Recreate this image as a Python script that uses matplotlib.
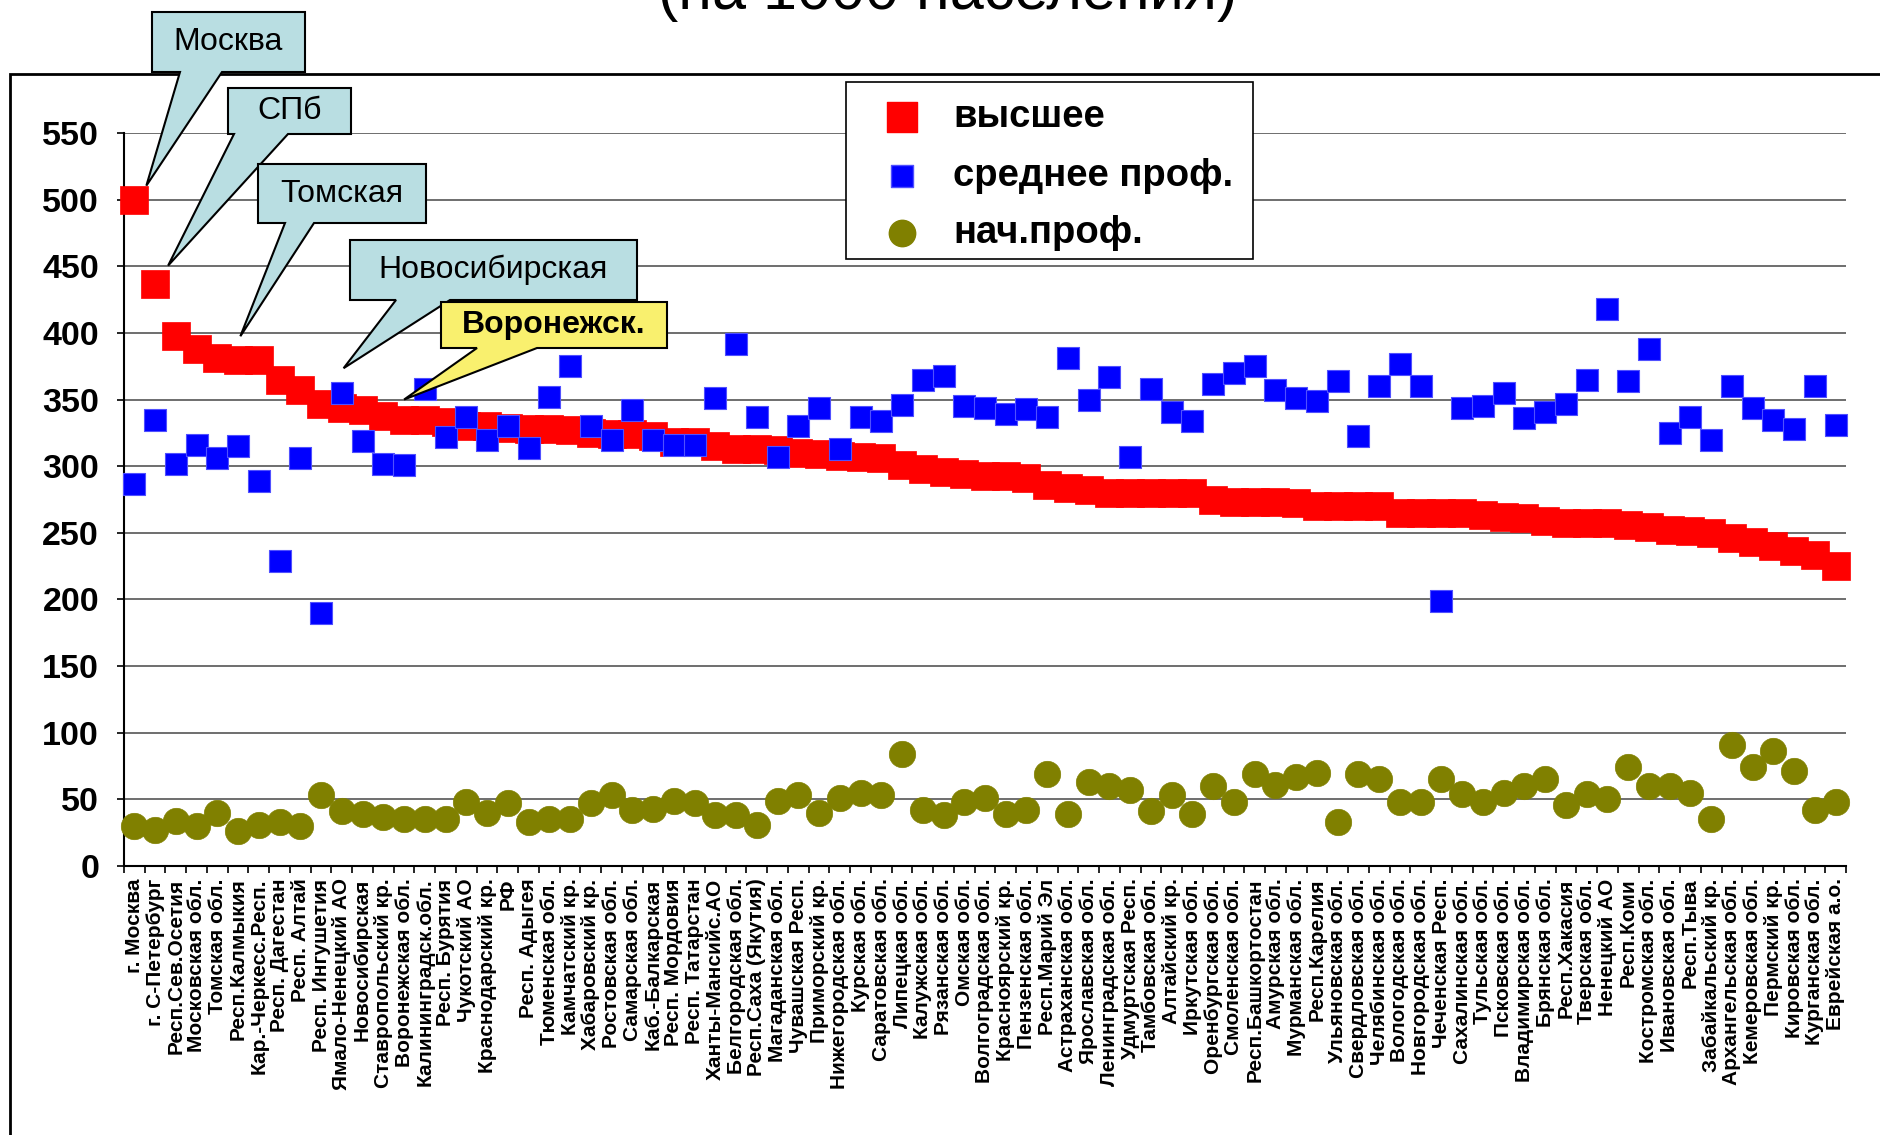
import matplotlib
matplotlib.use('Agg')
import matplotlib.pyplot as plt
from matplotlib.path import Path
from matplotlib.markers import MarkerStyle
from matplotlib.lines import Line2D
from matplotlib.patches import Polygon, Rectangle
import numpy as np

plt.rcParams['font.family'] = ['Liberation Sans', 'DejaVu Sans']

regions = [
    "г. Москва", "г. С-Петербург", "Респ.Сев.Осетия", "Московская обл.", "Томская обл.",
    "Респ.Калмыкия", "Кар.-Черкесс.Респ.", "Респ. Дагестан", "Респ. Алтай", "Респ. Ингушетия",
    "Ямало-Ненецкий АО", "Новосибирская", "Ставропольский кр.", "Воронежская обл.", "Калининградск.обл.",
    "Респ. Бурятия", "Чукотский АО", "Краснодарский кр.", "РФ", "Респ. Адыгея",
    "Тюменская обл.", "Камчатский кр.", "Хабаровский кр.", "Ростовская обл.", "Самарская обл.",
    "Каб.-Балкарская", "Респ. Мордовия", "Респ. Татарстан", "Ханты-Мансийс.АО", "Белгородская обл.",
    "Респ.Саха (Якутия)", "Магаданская обл.", "Чувашская Респ.", "Приморский кр.", "Нижегородская обл.",
    "Курская обл.", "Саратовская обл.", "Липецкая обл.", "Калужская обл.", "Рязанская обл.",
    "Омская обл.", "Волгоградская обл.", "Красноярский кр.", "Пензенская обл.", "Респ.Марий Эл",
    "Астраханская обл.", "Ярославская обл.", "Ленинградская обл.", "Удмуртская Респ.", "Тамбовская обл.",
    "Алтайский кр.", "Иркутская обл.", "Оренбургская обл.", "Смоленская обл.", "Респ.Башкортостан",
    "Амурская обл.", "Мурманская обл.", "Респ.Карелия", "Ульяновская обл.", "Свердловская обл.",
    "Челябинская обл.", "Вологодская обл.", "Новгородская обл.", "Чеченская Респ.", "Сахалинская обл.",
    "Тульская обл.", "Псковская обл.", "Владимирская обл.", "Брянская обл.", "Респ.Хакасия",
    "Тверская обл.", "Ненецкий АО", "Респ.Коми", "Костромская обл.", "Ивановская обл.",
    "Респ.Тыва", "Забайкальский кр.", "Архангельская обл.", "Кемеровская обл.", "Пермский кр.",
    "Кировская обл.", "Курганская обл.", "Еврейская а.о.",
]

higher = [
    500, 437, 398, 388, 381, 380, 380, 365, 357, 347,
    344, 342, 338, 335, 335, 333, 330, 330, 329, 328,
    328, 327, 325, 324, 324, 323, 318, 318, 315, 313,
    313, 312, 310, 309, 308, 307, 306, 301, 298, 296,
    294, 293, 293, 291, 286, 284, 282, 280, 280, 280,
    280, 280, 275, 273, 273, 273, 272, 270, 270, 270,
    270, 265, 265, 265, 265, 263, 262, 261, 259, 257,
    257, 257, 256, 254, 252, 251, 250, 246, 243, 240,
    236, 233, 225,
]

secondary = [
    287, 335, 302, 316, 306, 315, 289, 229, 306, 190,
    355, 319, 302, 301, 358, 322, 337, 320, 330, 314,
    352, 375, 330, 320, 342, 320, 316, 316, 351, 392,
    337, 307, 330, 344, 313, 337, 334, 346, 365, 368,
    345, 344, 339, 343, 337, 381, 350, 367, 307, 358,
    341, 334, 362, 370, 375, 357, 351, 349, 364, 323,
    360, 377, 360, 199, 344, 345, 355, 336, 341, 347,
    365, 418, 364, 388, 325, 337, 320, 360, 344, 335,
    328, 360, 331,
]

primary = [
    30, 27, 34, 30, 40, 26, 31, 33, 30, 53,
    41, 39, 37, 35, 35, 35, 48, 40, 47, 33,
    35, 35, 47, 53, 42, 43, 49, 47, 38, 38,
    31, 49, 53, 40, 51, 55, 53, 84, 42, 38,
    48, 51, 39, 42, 69, 39, 63, 60, 57, 41,
    53, 39, 60, 48, 69, 61, 67, 70, 33, 69,
    65, 48, 48, 65, 54, 48, 55, 60, 65, 46,
    54, 50, 74, 60, 60, 55, 35, 91, 74, 86,
    71, 42, 48,
]

yticks = list(range(0, 551, 50))
series_names = ["высшее", "среднее проф.", "нач.проф."]
title_text = "(на 1000 населения)"

W, H = 1880, 1135
fig = plt.figure(figsize=(W / 100, H / 100), dpi=100)
fig.patch.set_facecolor('white')

# outer frame (clipped by figure edges)
fig.add_artist(Rectangle((10 / W, -0.1), 1.2, 1.1 - 74 / H, transform=fig.transFigure,
                         fill=False, ec='black', lw=2.0))

ax = fig.add_axes([124 / W, 1 - 866 / H, (1846 - 124) / W, (866 - 133) / H])

def rect_marker(aspect):
    verts = [(-aspect, -1), (aspect, -1), (aspect, 1), (-aspect, 1), (-aspect, -1)]
    codes = [Path.MOVETO, Path.LINETO, Path.LINETO, Path.LINETO, Path.CLOSEPOLY]
    return MarkerStyle(Path(verts, codes))

red_m = rect_marker(1.0)
blue_m = rect_marker(1.0)
x = np.arange(len(regions))

ax.plot(x, higher, linestyle='none', marker=red_m, ms=20, mfc='#FF0000', mec='#FF0000',
        mew=0.5, zorder=3, clip_on=False)
ax.plot(x, secondary, linestyle='none', marker=blue_m, ms=16, mfc='#0000FF', mec='#5050FF',
        mew=0.8, zorder=4, clip_on=False)
ax.plot(x, primary, linestyle='none', marker='o', ms=19, mfc='#808000', mec='#808000',
        mew=0.5, zorder=5, clip_on=False)

ax.set_xlim(-0.5, len(regions) - 0.5)
ax.set_ylim(0, 550)
ax.set_yticks(yticks)
ax.set_yticklabels([str(v) for v in yticks], fontsize=24.5, fontweight='bold')
ax.set_xticks(x)
ax.set_xticklabels(regions, rotation=90, fontsize=15, fontweight='bold')
ax.set_xticks(np.arange(-0.5, len(regions), 1), minor=True)
ax.tick_params(axis='x', which='major', length=0, pad=9)
ax.tick_params(axis='x', which='minor', length=5, width=1.2, direction='out')
ax.tick_params(axis='y', length=5, width=1.2, direction='out', pad=13)
ax.grid(axis='y', color='#555555', lw=1.2, zorder=0)
ax.set_axisbelow(True)
for s in ['top', 'right']:
    ax.spines[s].set_visible(False)
for s in ['left', 'bottom']:
    ax.spines[s].set_color('black')
    ax.spines[s].set_linewidth(1.5)

# title (partially cut at top, as in the reference)
fig.text(0.504, 1 - 22 / H, title_text, ha='center', va='bottom', fontsize=44)

# legend (manual)
fig.add_artist(Rectangle((846 / W, 1 - 259 / H), (1253 - 846) / W, (259 - 82) / H,
                         transform=fig.transFigure, fc='white', ec='black', lw=1.2, zorder=10))
leg_y = [117, 176, 233]
leg_style = [dict(marker=red_m, ms=21, mfc='#FF0000', mec='#FF0000'),
             dict(marker=blue_m, ms=16, mfc='#0000FF', mec='#5050FF'),
             dict(marker='o', ms=19, mfc='#808000', mec='#808000')]
for yy, name, st in zip(leg_y, series_names, leg_style):
    fig.add_artist(Line2D([902 / W], [1 - yy / H], transform=fig.transFigure,
                          linestyle='none', zorder=11, **st))
    fig.text(953 / W, 1 - yy / H, name, ha='left', va='center', fontsize=27.5,
             fontweight='bold', zorder=11)

# callouts
def callout(box, base, idx, val, off, text, fc, bold=False, fs=23):
    x0, y0, x1, y1 = box
    bx0, bx1 = base
    tx, ty = ax.transData.transform((idx, val))
    tx += off[0]
    ty -= off[1]
    verts = [(x0, H - y0), (x1, H - y0), (x1, H - y1), (bx1, H - y1), (tx, ty),
             (bx0, H - y1), (x0, H - y1)]
    verts = np.array(verts) / np.array([W, H])
    fig.add_artist(Polygon(verts, closed=True, transform=fig.transFigure, fc=fc,
                           ec='black', lw=1.5, zorder=12))
    fig.text((x0 + x1) / 2 / W, 1 - (y0 + y1) / 2 / H, text, ha='center', va='center',
             fontsize=fs, fontweight='bold' if bold else 'normal', zorder=13)

lb = '#B9DEE2'
callout((152, 12, 305, 72), (180, 222), 0, higher[0], (12, -14), "Москва", lb)
callout((228, 88, 351, 134), (234, 288), 1, higher[1], (13, -18), "СПб", lb)
callout((258, 164, 426, 223), (285, 314), 4, higher[4], (23, -22), "Томская", lb)
callout((350, 240, 637, 300), (396, 450), 11, higher[11], (-19, -42), "Новосибирская", lb)
callout((441, 302, 667, 348), (477, 537), 13, higher[13], (0, -20), "Воронежск.", '#F9F06E', bold=True)

fig.savefig('out.png', dpi=100)
